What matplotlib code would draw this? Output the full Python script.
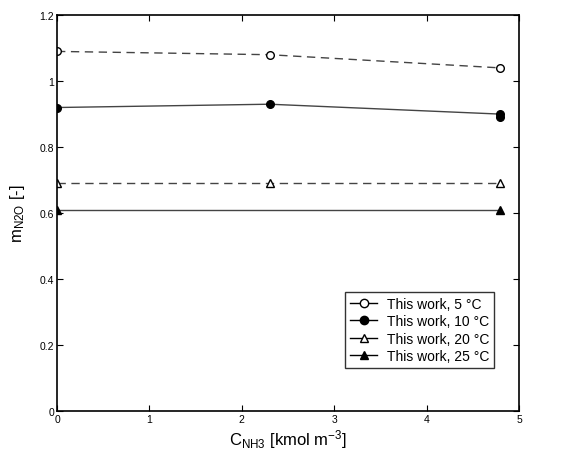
import matplotlib
matplotlib.use('Agg')
import matplotlib.pyplot as plt

plt.rcParams['font.family'] = ['Liberation Sans', 'DejaVu Sans']
plt.rcParams['mathtext.fontset'] = 'custom'
plt.rcParams['mathtext.rm'] = 'Liberation Sans'
plt.rcParams['mathtext.it'] = 'Liberation Sans'

# data
x_5 = [0, 2.3, 4.8]
m_5 = [1.09, 1.08, 1.04]
x_10 = [0, 2.3, 4.8, 4.8]
m_10 = [0.92, 0.93, 0.90, 0.89]
x_20 = [0, 2.3, 4.8]
m_20 = [0.69, 0.69, 0.69]
x_25 = [0, 4.8]
m_25 = [0.61, 0.61]

labels = ['This work, 5 \u00b0C', 'This work, 10 \u00b0C',
          'This work, 20 \u00b0C', 'This work, 25 \u00b0C']

fig = plt.figure(figsize=(5.76, 4.6), dpi=100)
ax = fig.add_axes([0.099, 0.104, 0.802, 0.861])

lc = '#444444'
ms = 5.5
ax.plot(x_5, m_5, '--', color=lc, lw=1, dashes=(6, 4), marker='o', ms=ms,
        mfc='white', mec='black', label=labels[0])
ax.plot(x_10, m_10, '-', color=lc, lw=1, marker='o', ms=ms,
        mfc='black', mec='black', label=labels[1])
ax.plot(x_20, m_20, '--', color=lc, lw=1, dashes=(6, 4), marker='^', ms=ms,
        mfc='white', mec='black', label=labels[2])
ax.plot(x_25, m_25, '-', color=lc, lw=1, marker='^', ms=ms,
        mfc='black', mec='black', label=labels[3])

ax.set_xlim(0, 5)
ax.set_ylim(0, 1.2)
ax.set_xticks([0, 1, 2, 3, 4, 5])
ax.set_xticklabels(['0', '1', '2', '3', '4', '5'])
ax.set_yticks([0, 0.2, 0.4, 0.6, 0.8, 1.0, 1.2])
ax.set_yticklabels(['0', '0.2', '0.4', '0.6', '0.8', '1', '1.2'])
ax.tick_params(direction='in', top=True, right=True, labelsize=7.5,
               length=4, width=0.8, pad=2)
for s in ax.spines.values():
    s.set_linewidth(1.2)

ax.set_xlabel(r'C$_{\mathregular{NH3}}$ [kmol m$^{\mathregular{-3}}$]', fontsize=12, labelpad=2)
ax.set_ylabel(r'm$_{\mathregular{N2O}}$ [-]', fontsize=12, labelpad=9)

leg = ax.legend(loc='lower left', bbox_to_anchor=(0.623, 0.109), fontsize=10,
                frameon=True, fancybox=False, edgecolor='black',
                handlelength=2.0, borderpad=0.35, labelspacing=0.25,
                handletextpad=0.7, borderaxespad=0)
leg.get_frame().set_linewidth(1)
for h in leg.get_lines():
    h.set_linestyle('-')
    h.set_color('black')
    h.set_markersize(6)

fig.savefig('out.png', dpi=100)
